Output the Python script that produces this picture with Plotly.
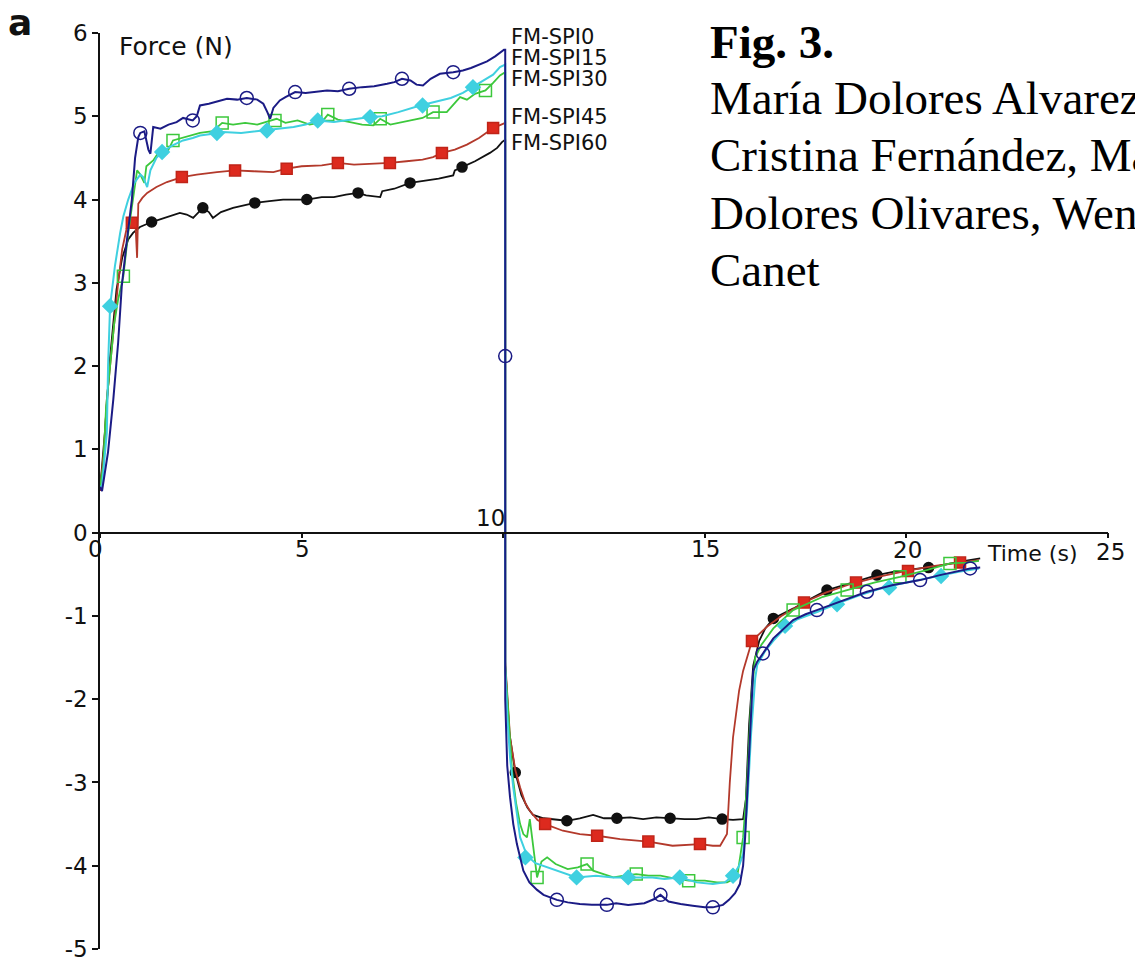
import plotly.graph_objects as go

# ---- force-time traces (time in s, force in N) ----
spi0_t = [0, 0.05, 0.2, 0.33, 0.45, 0.54, 0.66, 0.79, 0.87, 0.95, 1.0, 1.1, 1.2, 1.25, 1.32, 1.5, 1.7, 1.9,
          2.06, 2.3, 2.4, 2.48, 2.7, 2.9, 3.15, 3.4, 3.64, 3.9, 4.05, 4.15, 4.22, 4.3, 4.46, 4.6, 4.84, 5.1,
          5.4, 5.63, 5.9, 6.18, 6.5, 6.8, 7.12, 7.3, 7.49, 7.7, 7.85, 8.01, 8.2, 8.43, 8.76, 9.0, 9.2, 9.35,
          9.6, 9.8, 9.92, 10.02, 10.05, 10.05, 10.1, 10.17, 10.25, 10.34, 10.5, 10.65, 10.84, 11.0, 11.33,
          11.6, 11.9, 12.2, 12.57, 12.8, 13.1, 13.5, 13.75, 13.9, 14.1, 14.4, 14.7, 15.0, 15.2, 15.45, 15.6,
          15.75, 15.87, 15.95, 16.0, 16.1, 16.2, 16.3, 16.44, 16.7, 17.19, 17.5, 17.78, 18.35, 19.02, 19.67,
          20.34, 20.83, 21.3, 21.58, 21.83]
spi0_f = [0.55, 0.5, 0.97, 1.6, 2.28, 2.96, 3.48, 4.0, 4.5, 4.75, 4.8, 4.82, 4.6, 4.55, 4.87, 4.85, 4.9, 4.93,
          4.98, 4.95, 5.0, 5.13, 5.15, 5.18, 5.21, 5.2, 5.22, 5.2, 5.15, 5.05, 4.97, 5.1, 5.19, 5.23, 5.29, 5.28,
          5.3, 5.31, 5.3, 5.33, 5.35, 5.36, 5.39, 5.41, 5.45, 5.43, 5.38, 5.37, 5.45, 5.51, 5.53, 5.55, 5.58, 5.61,
          5.66, 5.72, 5.77, 5.8, 5.8, -2.0, -2.8, -3.18, -3.5, -3.74, -4.06, -4.2, -4.29, -4.35, -4.41,
          -4.44, -4.46, -4.47, -4.47, -4.45, -4.47, -4.45, -4.4, -4.35, -4.43, -4.46, -4.48, -4.5, -4.5, -4.47, -4.41,
          -4.33, -4.22, -4.0, -3.66, -2.6, -1.66, -1.55, -1.45, -1.27, -1.05, -0.98, -0.93, -0.83, -0.71, -0.63,
          -0.57, -0.51, -0.46, -0.43, -0.42]
spi0_mt = [1.0, 2.3, 3.64, 4.84, 6.18, 7.49, 8.76, 10.05, 11.33, 12.57, 13.9, 15.2, 16.44, 17.78, 19.02, 20.34, 21.58]
spi0_mf = [4.8, 4.95, 5.22, 5.29, 5.33, 5.45, 5.53, 2.12, -4.41, -4.47, -4.35, -4.5, -1.45, -0.93, -0.71, -0.57, -0.43]

spi15_t = [0, 0.08, 0.15, 0.25, 0.35, 0.45, 0.58, 0.7, 0.82, 0.92, 1.0, 1.1, 1.15, 1.32, 1.5, 1.65, 1.81, 2.1,
           2.48, 2.8, 3.03, 3.3, 3.6, 3.9, 4.1, 4.38, 4.6, 4.9, 5.2, 5.5, 5.65, 5.9, 6.2, 6.5, 6.78, 6.95, 7.2,
           7.4, 7.7, 8.0, 8.26, 8.6, 8.93, 9.1, 9.3, 9.56, 9.75, 9.92, 10.02, 10.05, 10.05, 10.15, 10.22, 10.32,
           10.42, 10.5, 10.59, 10.66, 10.74, 10.84, 10.95, 11.09, 11.3, 11.6, 11.85, 12.08, 12.23, 12.5, 12.73,
           13.0, 13.3, 13.6, 13.9, 14.2, 14.6, 15.0, 15.3, 15.55, 15.8, 15.95, 16.05, 16.15, 16.25, 16.4, 16.7,
           17.19, 17.6, 17.93, 18.53, 19.2, 19.84, 20.5, 21.08, 21.5, 21.8]
spi15_f = [0.55, 0.8, 1.5, 2.0, 2.5, 2.8, 3.08, 3.6, 4.0, 4.35, 4.3, 4.2, 4.4, 4.47, 4.6, 4.55, 4.71, 4.75,
           4.8, 4.82, 4.92, 4.9, 4.92, 4.9, 4.93, 4.97, 4.92, 4.95, 4.9, 4.93, 5.02, 4.96, 4.93, 4.9, 4.89, 4.97, 4.9,
           4.92, 4.95, 4.98, 5.05, 5.05, 5.23, 5.2, 5.27, 5.31, 5.4, 5.49, 5.52, 5.52, -1.6, -2.4, -2.86, -3.25,
           -3.5, -3.62, -3.66, -3.44, -3.74, -4.14, -3.95, -3.9, -3.98, -4.04, -4.02, -3.98, -4.06, -4.1, -4.14,
           -4.12, -4.1, -4.12, -4.12, -4.15, -4.18, -4.18, -4.2, -4.2, -4.14, -3.66, -3.0, -2.0, -1.5, -1.35, -1.15,
           -0.93, -0.84, -0.77, -0.69, -0.6, -0.53, -0.45, -0.37, -0.36, -0.34]
spi15_mt = [0.58, 1.81, 3.03, 4.34, 5.65, 6.95, 8.26, 9.56, 10.84, 12.08, 13.3, 14.6, 15.95, 17.19, 18.53, 19.84, 21.08]
spi15_mf = [3.08, 4.71, 4.92, 4.95, 5.02, 4.97, 5.05, 5.31, -4.14, -3.98, -4.1, -4.18, -3.66, -0.93, -0.69, -0.53, -0.37]

spi30_t = [0, 0.05, 0.17, 0.2, 0.25, 0.37, 0.5, 0.58, 0.7, 0.85, 1.0, 1.07, 1.17, 1.25, 1.4, 1.54, 1.8, 2.06,
           2.3, 2.48, 2.8, 3.05, 3.5, 4.05, 4.4, 4.8, 5.1, 5.38, 5.8, 6.2, 6.7, 7.0, 7.4, 7.94, 8.3, 8.7, 9.0,
           9.25, 9.5, 9.75, 9.92, 10.02, 10.05, 10.05, 10.1, 10.17, 10.25, 10.42, 10.59, 10.8, 11.09, 11.48,
           11.82, 12.3, 12.73, 13.1, 13.7, 14.0, 14.38, 14.8, 15.2, 15.5, 15.7, 15.85, 15.95, 16.05, 16.15, 16.25,
           16.3, 16.5, 16.7, 17.0, 17.3, 17.8, 18.3, 18.8, 19.3, 19.8, 20.3, 20.8, 21.3, 21.8]
spi30_f = [0.55, 0.56, 1.2, 2.0, 2.72, 3.2, 3.6, 3.8, 4.0, 4.2, 4.3, 4.27, 4.15, 4.35, 4.5, 4.57, 4.65, 4.71,
           4.74, 4.77, 4.79, 4.81, 4.8, 4.83, 4.85, 4.87, 4.9, 4.95, 4.93, 4.96, 4.99, 5.0, 5.05, 5.13, 5.17, 5.22, 5.28,
           5.35, 5.42, 5.5, 5.59, 5.62, 5.62, -1.6, -2.2, -2.7, -3.06, -3.66, -3.88, -3.97, -4.02, -4.08,
           -4.14, -4.12, -4.14, -4.14, -4.14, -4.16, -4.14, -4.2, -4.22, -4.2, -4.12, -4.0, -3.86, -3.3, -2.4, -1.75,
           -1.59, -1.42, -1.3, -1.14, -1.04, -0.95, -0.85, -0.76, -0.68, -0.62, -0.57, -0.52, -0.47, -0.43]
spi30_mt = [0.25, 1.54, 2.9, 4.14, 5.4, 6.7, 8.0, 9.25, 10.55, 11.82, 13.1, 14.38, 15.7, 16.99, 18.28, 19.57, 20.86]
spi30_mf = [2.72, 4.57, 4.8, 4.83, 4.95, 4.99, 5.13, 5.35, -3.9, -4.14, -4.14, -4.14, -4.12, -1.12, -0.86, -0.66, -0.52]

spi45_t = [0, 0.1, 0.17, 0.25, 0.33, 0.45, 0.55, 0.66, 0.79, 0.88, 0.92, 0.95, 1.05, 1.17, 1.4, 1.66, 2.03,
           2.4, 2.9, 3.35, 3.8, 4.3, 4.63, 5.0, 5.5, 5.9, 6.3, 6.8, 7.19, 7.6, 8.0, 8.26, 8.48, 8.8, 9.1, 9.4,
           9.75, 9.95, 10.05, 10.05, 10.17, 10.3, 10.42, 10.55, 10.66, 10.85, 11.04, 11.48, 11.9, 12.33, 12.9,
           13.6, 14.2, 14.88, 15.2, 15.38, 15.55, 15.62, 15.7, 15.85, 15.95, 16.17, 16.54, 16.9, 17.5, 18.0,
           18.6, 19.3, 20.0, 20.7, 21.3, 21.8]
spi45_f = [0.5, 1.0, 1.6, 2.0, 2.4, 3.0, 3.4, 3.65, 3.72, 3.7, 3.3, 3.95, 4.02, 4.08, 4.15, 4.21, 4.27,
           4.3, 4.33, 4.35, 4.34, 4.33, 4.37, 4.4, 4.41, 4.44, 4.42, 4.43, 4.44, 4.46, 4.48, 4.51, 4.56, 4.6, 4.66, 4.74,
           4.86, 4.9, 4.92, -1.55, -2.46, -2.85, -3.06, -3.25, -3.34, -3.45, -3.5, -3.58, -3.62, -3.64, -3.68,
           -3.71, -3.76, -3.74, -3.76, -3.76, -3.62, -3.0, -2.46, -1.9, -1.66, -1.3, -1.13, -1.0, -0.83, -0.72,
           -0.62, -0.53, -0.46, -0.4, -0.36, -0.33]
spi45_mt = [0.79, 2.03, 3.35, 4.63, 5.9, 7.19, 8.48, 9.75, 11.04, 12.33, 13.6, 14.88, 16.17, 17.46, 18.75, 20.04, 21.33]
spi45_mf = [3.72, 4.27, 4.35, 4.37, 4.44, 4.44, 4.56, 4.86, -3.5, -3.64, -3.71, -3.74, -1.3, -0.84, -0.6, -0.46, -0.36]

spi60_t = [0, 0.12, 0.25, 0.41, 0.55, 0.7, 0.82, 0.99, 1.28, 1.6, 1.98, 2.15, 2.31, 2.55, 2.7, 2.8, 3.0, 3.3,
           3.6, 3.84, 4.2, 4.54, 4.8, 5.13, 5.5, 5.8, 6.1, 6.4, 6.6, 6.95, 7.0, 7.3, 7.69, 8.0, 8.4, 8.76, 8.8,
           8.98, 9.3, 9.67, 9.85, 9.97, 10.05, 10.05, 10.15, 10.3, 10.45, 10.6, 10.74, 11.0, 11.24, 11.58, 11.9,
           12.23, 12.5, 12.82, 13.15, 13.47, 13.8, 14.14, 14.5, 14.8, 15.1, 15.43, 15.7, 15.95, 16.02, 16.1, 16.2,
           16.35, 16.5, 16.7, 17.2, 17.6, 18.03, 18.6, 19.27, 19.67, 20.38, 20.8, 21.3, 21.83]
spi60_f = [0.5, 1.2, 2.1, 2.92, 3.3, 3.52, 3.6, 3.67, 3.73, 3.78, 3.84, 3.82, 3.78, 3.9, 3.85, 3.78, 3.85, 3.9,
           3.93, 3.96, 3.98, 4.0, 4.0, 4.0, 4.03, 4.03, 4.06, 4.08, 4.05, 4.03, 4.1, 4.13, 4.2, 4.22, 4.25, 4.29, 4.35,
           4.39, 4.46, 4.56, 4.62, 4.69, 4.72, -1.6, -2.4, -2.88, -3.15, -3.3, -3.39, -3.43, -3.44, -3.46, -3.43,
           -3.39, -3.43, -3.43, -3.42, -3.44, -3.42, -3.43, -3.44, -3.44, -3.42, -3.44, -3.45, -3.44, -3.2, -2.3, -1.6,
           -1.3, -1.15, -1.03, -0.91, -0.8, -0.69, -0.61, -0.51, -0.47, -0.43, -0.4, -0.35, -0.31]
spi60_mt = [1.28, 2.55, 3.84, 5.13, 6.4, 7.69, 8.98, 10.3, 11.58, 12.82, 14.14, 15.43, 16.7, 18.03, 19.27, 20.55]
spi60_mf = [3.73, 3.9, 3.96, 4.0, 4.08, 4.2, 4.39, -2.88, -3.46, -3.43, -3.43, -3.44, -1.03, -0.69, -0.51, -0.42]

series_names = ["FM-SPI0", "FM-SPI15", "FM-SPI30", "FM-SPI45", "FM-SPI60"]
x_ticks = [0, 5, 10, 15, 20, 25]
y_ticks = [-5, -4, -3, -2, -1, 0, 1, 2, 3, 4, 5, 6]

# ---- page geometry ----
W, H = 1135, 960
ML, MR, MT, MB = 100, 27, 33, 11
PW, PH = W - ML - MR, H - MT - MB
X_RANGE = [0, 25]
Y_RANGE = [-5, 6]


def px_paper(px, py):
    """Pixel position on the page -> paper coordinates."""
    return (px - ML) / PW, (H - MB - py) / PH


SANS = "DejaVu Sans"
SERIF = "Liberation Serif"
INK = "#111111"

styles = [
    dict(t=spi60_t, f=spi60_f, mt=spi60_mt, mf=spi60_mf, lc="#111111", lw=1.8,
         sym="circle", fill="#111111", mline="#111111", ms=10),
    dict(t=spi45_t, f=spi45_f, mt=spi45_mt, mf=spi45_mf, lc="#b3392b", lw=1.8,
         sym="square", fill="#dd2a1e", mline="#c02418", ms=11),
    dict(t=spi15_t, f=spi15_f, mt=spi15_mt, mf=spi15_mf, lc="#3cc83c", lw=1.8,
         sym="square-open", fill="#3cc83c", mline="#3cc83c", ms=12),
    dict(t=spi30_t, f=spi30_f, mt=spi30_mt, mf=spi30_mf, lc="#3fd0e0", lw=2.0,
         sym="diamond", fill="#3fd0e0", mline="#3fd0e0", ms=11),
    dict(t=spi0_t, f=spi0_f, mt=spi0_mt, mf=spi0_mf, lc="#1b1b85", lw=2.0,
         sym="circle-open", fill="#1b1b85", mline="#1b1b85", ms=13),
]

fig = go.Figure()
for s in styles:
    fig.add_trace(go.Scatter(x=s["t"], y=s["f"], mode="lines",
                             line=dict(color=s["lc"], width=s["lw"]),
                             showlegend=False, hoverinfo="skip"))
    fig.add_trace(go.Scatter(x=s["mt"], y=s["mf"], mode="markers",
                             marker=dict(symbol=s["sym"], size=s["ms"], color=s["fill"],
                                         line=dict(color=s["mline"], width=1.5)),
                             showlegend=False, hoverinfo="skip"))

annotations = []


def add_text(px, py, text, size, family=SANS, xanchor="left", color=INK):
    x, y = px_paper(px, py)
    annotations.append(dict(x=x, y=y, xref="paper", yref="paper", text=text,
                            showarrow=False, xanchor=xanchor, yanchor="middle",
                            font=dict(family=family, size=size, color=color)))


# series labels at the end of the loading phase
for name, py in zip(series_names, [37, 58, 79, 117, 143]):
    add_text(509, py, name, 21)

# x tick labels (the 10 label sits above the axis, next to the unloading drop)
x_lab_pos = {0: (95, 549), 5: (302, 549), 10: (490, 518), 15: (705, 549), 20: (907, 550), 25: (1110, 552)}
for v in x_ticks:
    px, py = x_lab_pos[v]
    add_text(px, py, str(v), 23, xanchor="center")

# axis titles
add_text(117, 47, "Force (N)", 25)
add_text(985, 553, "Time (s)", 22)

# panel letter
add_text(20, 22, "<b>a</b>", 36, xanchor="center")

# caption block
caption = [("<b>Fig. 3.</b>", 42),
           ("María Dolores Alvarez,", 98),
           ("Cristina Fernández, María", 155),
           ("Dolores Olivares, Wenceslao", 213),
           ("Canet", 270)]
for txt, py in caption:
    add_text(708, py, txt, 47, family=SERIF, color="#000000")

fig.update_layout(
    width=W, height=H,
    margin=dict(l=ML, r=MR, t=MT, b=MB, pad=0, autoexpand=False),
    paper_bgcolor="white", plot_bgcolor="white",
    showlegend=False,
    annotations=annotations,
    xaxis=dict(range=X_RANGE, anchor="free", automargin=False,
               position=(0 - Y_RANGE[0]) / (Y_RANGE[1] - Y_RANGE[0]),
               showline=True, linecolor=INK, linewidth=1.5,
               ticks="outside", ticklen=5, tickwidth=1.5, tickcolor=INK,
               tickvals=x_ticks, showticklabels=False,
               showgrid=False, zeroline=False),
    yaxis=dict(range=Y_RANGE, automargin=False,
               showline=True, linecolor=INK, linewidth=1.5,
               ticks="outside", ticklen=6, tickwidth=1.5, tickcolor=INK,
               tickvals=y_ticks, ticktext=[str(v) for v in y_ticks],
               tickfont=dict(family=SANS, size=23, color=INK),
               ticklabeloverflow="allow",
               showgrid=False, zeroline=False),
)

fig.write_html("out.html")
